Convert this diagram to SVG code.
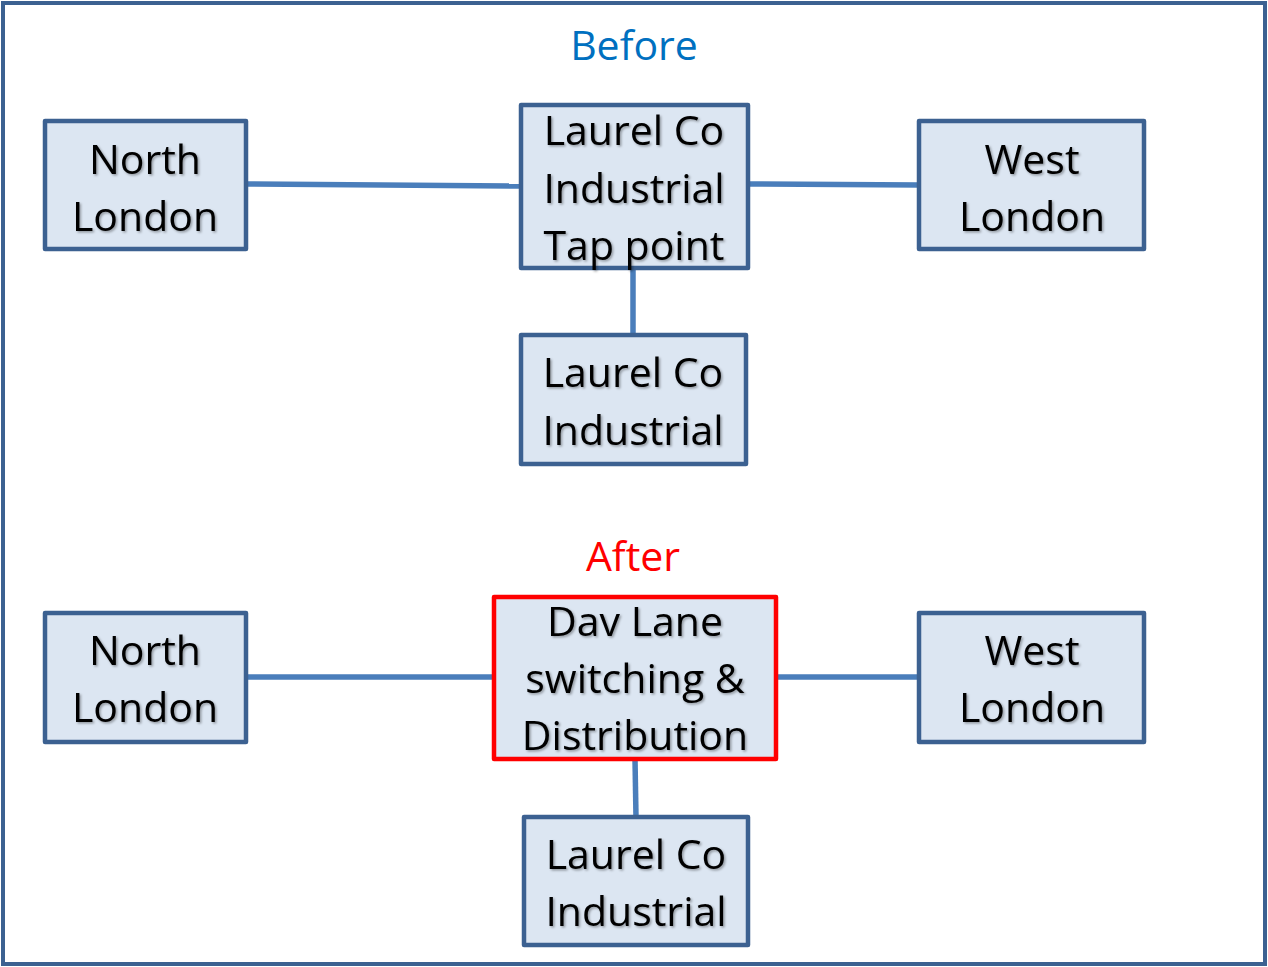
<svg xmlns="http://www.w3.org/2000/svg" width="1268" height="967" viewBox="0 0 1268 967">
<defs>
<filter id="sh" x="-5%" y="-5%" width="110%" height="120%">
<feDropShadow dx="1.5" dy="1.5" stdDeviation="0.8" flood-color="#000" flood-opacity="0.35"/>
</filter>
<style>
.box{fill:#DCE6F2;stroke:#3C6191;stroke-width:4.5;stroke-linejoin:round}
.red{fill:#DCE6F2;stroke:#FF0000;stroke-width:4.5;stroke-linejoin:round}
.t{font-family:"Open Sans","Liberation Sans",sans-serif;font-size:41px;fill:#000;text-anchor:middle;filter:url(#sh)}
.h{font-family:"Open Sans","Liberation Sans",sans-serif;font-size:41px;text-anchor:middle}
.c{stroke:#4A7EBB;stroke-width:5.5;fill:none}
</style>
</defs>
<rect x="0" y="0" width="1268" height="967" fill="#fff"/>
<rect x="3" y="3" width="1262" height="961" fill="none" stroke="#3C6191" stroke-width="4"/>
<g id="connectors">
<line class="c" x1="246" y1="184" x2="521" y2="186"/>
<line class="c" x1="748" y1="184" x2="919" y2="185"/>
<line class="c" x1="633" y1="268" x2="633" y2="335"/>
<line class="c" x1="246" y1="677" x2="494" y2="677"/>
<line class="c" x1="776" y1="677" x2="919" y2="677"/>
<line class="c" x1="635" y1="759" x2="636" y2="817"/>
</g>
<g id="title-before"><text class="h" x="634" y="60" fill="#0070C0">Before</text></g>
<g id="title-after"><text class="h" x="633" y="571" fill="#FF0000">After</text></g>
<g id="north-london-1">
<rect class="box" x="45" y="121" width="201" height="128"/>
<text class="t" x="145" y="174">North</text>
<text class="t" x="145" y="231">London</text>
</g>
<g id="tap-point">
<rect class="box" x="521" y="105" width="227" height="163"/>
<text class="t" x="634" y="145">Laurel Co</text>
<text class="t" x="634" y="203">Industrial</text>
<text class="t" x="634" y="260">Tap point</text>
</g>
<g id="west-london-1">
<rect class="box" x="919" y="121" width="225" height="128"/>
<text class="t" x="1032" y="174">West</text>
<text class="t" x="1032" y="231">London</text>
</g>
<g id="laurel-1">
<rect class="box" x="521" y="335" width="225" height="129"/>
<text class="t" x="633" y="387">Laurel Co</text>
<text class="t" x="633" y="445">Industrial</text>
</g>
<g id="north-london-2">
<rect class="box" x="45" y="613" width="201" height="129"/>
<text class="t" x="145" y="665">North</text>
<text class="t" x="145" y="722">London</text>
</g>
<g id="dav-lane">
<rect class="red" x="494" y="597" width="282" height="162"/>
<text class="t" x="635" y="636">Dav Lane</text>
<text class="t" x="635" y="693">switching &amp;</text>
<text class="t" x="635" y="750">Distribution</text>
</g>
<g id="west-london-2">
<rect class="box" x="919" y="613" width="225" height="129"/>
<text class="t" x="1032" y="665">West</text>
<text class="t" x="1032" y="722">London</text>
</g>
<g id="laurel-2">
<rect class="box" x="524" y="817" width="224" height="128"/>
<text class="t" x="636" y="869">Laurel Co</text>
<text class="t" x="636" y="926">Industrial</text>
</g>
</svg>
